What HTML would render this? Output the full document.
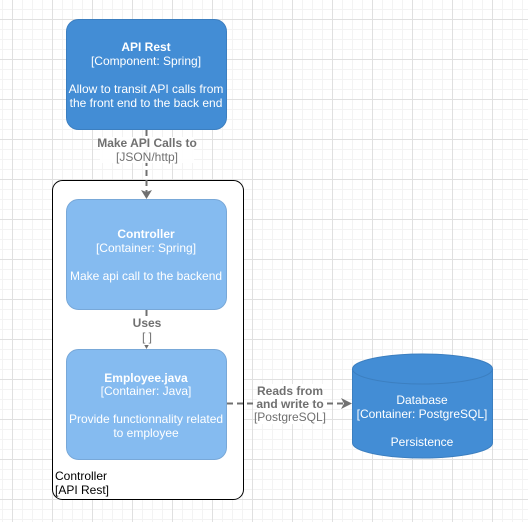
<!DOCTYPE html>
<html><head><meta charset="utf-8"><style>
html,body{margin:0;padding:0;width:528px;height:522px;overflow:hidden;background:#fff}
svg text{font-family:"Liberation Sans",Arial,sans-serif;font-size:12px}
</style></head><body>
<svg width="528" height="522" viewBox="0 0 528 522" xmlns="http://www.w3.org/2000/svg">
<defs>
<pattern id="minor" x="2" y="9" width="10" height="10" patternUnits="userSpaceOnUse">
<path d="M0.5 0V10M0 0.5H10" stroke="#f3f3f3" stroke-width="1" fill="none"/>
</pattern>
<pattern id="major" x="12" y="19" width="40" height="40" patternUnits="userSpaceOnUse">
<path d="M0.5 0V40M0 0.5H40" stroke="#e0e0e0" stroke-width="1" fill="none"/>
</pattern>
</defs>
<rect width="528" height="522" fill="url(#minor)"/>
<rect width="528" height="522" fill="url(#major)"/>

<rect x="52.5" y="180.5" width="191" height="319" rx="10" fill="#fff" stroke="#000" stroke-width="1"/>
<text x="55" y="480" fill="#000">Controller</text>
<text x="55" y="494" fill="#000">[API Rest]</text>

<rect x="66.5" y="19.5" width="160" height="110" rx="12" fill="#438dd5" stroke="#3c7fc0"/>
<g fill="#fff" text-anchor="middle">
<text x="146" y="51" font-weight="bold">API Rest</text>
<text x="146" y="65">[Component: Spring]</text>
<text x="146" y="93">Allow to transit API calls from</text>
<text x="146" y="107">the front end to the back end</text>
</g>

<path d="M146.5 130V192" stroke="#707070" stroke-width="2" stroke-dasharray="6 4" fill="none"/>
<path d="M141 190L146.5 199L152 190L146.5 192Z" fill="#707070"/>
<rect x="100" y="137" width="94" height="26" fill="#fff" opacity="0.9"/>
<text x="147" y="147" text-anchor="middle" fill="#707070" font-size="10.5" font-weight="bold">Make API Calls to</text>
<text x="147" y="161" text-anchor="middle" fill="#707070" font-size="10.5">[JSON/http]</text>

<rect x="66.5" y="199.5" width="160" height="110" rx="12" fill="#85bbf0" stroke="#78a8d8"/>
<g fill="#fff" text-anchor="middle">
<text x="146" y="238" font-weight="bold">Controller</text>
<text x="146" y="252">[Container: Spring]</text>
<text x="146" y="280">Make api call to the backend</text>
</g>

<path d="M146.5 310V342" stroke="#707070" stroke-width="2" stroke-dasharray="6 4" fill="none"/>
<path d="M142 341L146.5 349L151 341Z" fill="#707070"/>
<rect x="130" y="317" width="34" height="28" fill="#fff"/>
<text x="147" y="327" text-anchor="middle" fill="#707070" font-size="10.5" font-weight="bold">Uses</text>
<text x="147" y="341" text-anchor="middle" fill="#707070" font-size="10.5">[ ]</text>

<rect x="66.5" y="349.5" width="160" height="110" rx="12" fill="#85bbf0" stroke="#78a8d8"/>
<g fill="#fff" text-anchor="middle">
<text x="146" y="382" font-weight="bold">Employee.java</text>
<text x="146" y="395">[Container: Java]</text>
<text x="146" y="423">Provide functionnality related</text>
<text x="146" y="437">to employee</text>
</g>

<path d="M227 403.5H345" stroke="#707070" stroke-width="2" stroke-dasharray="6 4" fill="none"/>
<path d="M341 398L352 403.5L341 409L344 403.5Z" fill="#707070"/>
<rect x="257" y="384" width="66" height="40" fill="#fff" opacity="0.95"/>
<text x="290" y="395" text-anchor="middle" fill="#707070" font-size="10.5" font-weight="bold">Reads from</text>
<text x="290" y="408" text-anchor="middle" fill="#707070" font-size="10.5" font-weight="bold">and write to</text>
<text x="290" y="421" text-anchor="middle" fill="#707070" font-size="10.5">[PostgreSQL]</text>

<path d="M352.5 369 A70 15 0 0 1 492.5 369 V443 A70 15 0 0 1 352.5 443 Z" fill="#438dd5" stroke="#3c7fc0"/>
<path d="M352.5 369 A70 15 0 0 0 492.5 369" fill="none" stroke="#3c7fc0"/>
<g fill="#fff" text-anchor="middle">
<text x="422" y="404">Database</text>
<text x="422" y="418">[Container: PostgreSQL]</text>
<text x="422" y="446">Persistence</text>
</g>
</svg>
</body></html>
